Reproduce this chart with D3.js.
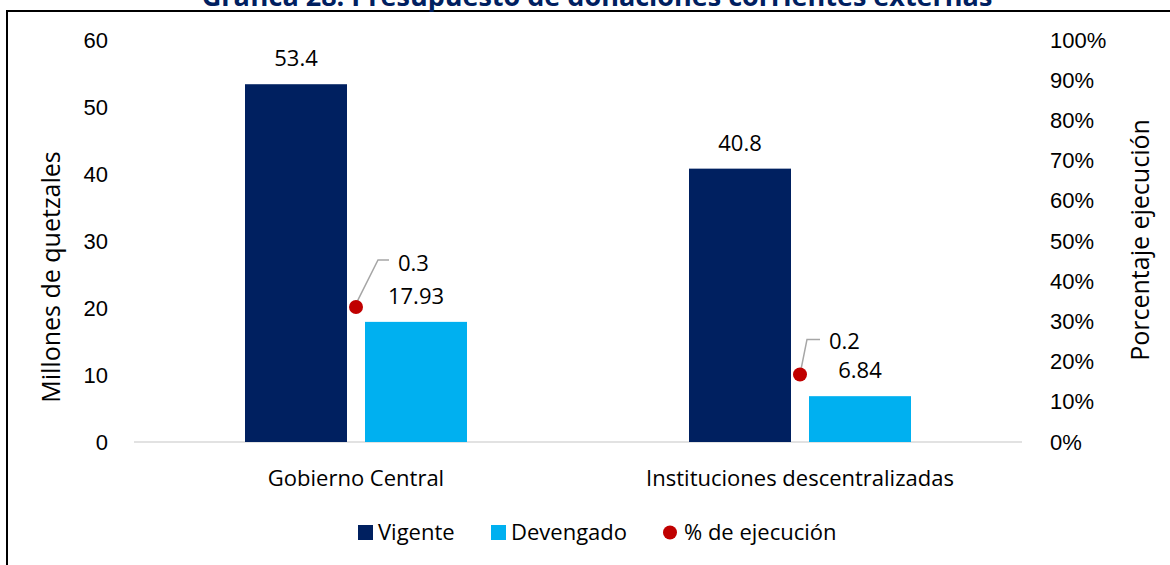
<!DOCTYPE html>
<html><head><meta charset="utf-8">
<script src="https://cdn.jsdelivr.net/npm/d3@7"></script>
<style>
html,body{margin:0;padding:0;background:#fff;}
svg{display:block;font-family:"Open Sans","Noto Sans",sans-serif;}
</style></head>
<body>
<svg id="c" width="1170" height="565"></svg>
<script>
const categories = ["Gobierno Central", "Instituciones descentralizadas"];
const series = ["Vigente", "Devengado"];
const vigente = [53.4, 40.8];
const devengado = [17.93, 6.84];
const ejecucion = [0.336, 0.168];
const vigenteLabels = ["53.4", "40.8"];
const devengadoLabels = ["17.93", "6.84"];
const ejecucionLabels = ["0.3", "0.2"];
const leftTicks = [0, 10, 20, 30, 40, 50, 60];
const rightTicks = [0, 0.1, 0.2, 0.3, 0.4, 0.5, 0.6, 0.7, 0.8, 0.9, 1];
const title = "Gráfica 28: Presupuesto de donaciones corrientes externas";

const colors = {Vigente: "#002060", Devengado: "#00B0F0", pct: "#C00000"};
const FS = 22;
const svg = d3.select("#c");

// frame
svg.append("path").attr("d", "M7,565 L7,11 L1170,11").attr("fill","none").attr("stroke","#000").attr("stroke-width",2);
svg.append("text").attr("x", 597).attr("y", 6).attr("text-anchor","middle")
  .attr("font-size", 27).attr("font-weight","bold").attr("fill","#002060").text(title);

const L = 134, R = 1022, T = 40, B = 442;
const x = d3.scaleBand().domain(categories).range([L, R]);
const y = d3.scaleLinear().domain([0, 60]).range([B, T]);
const y2 = d3.scaleLinear().domain([0, 1]).range([B, T]);

const rows = categories.map((c, i) => ({c, i, Vigente: vigente[i], Devengado: devengado[i]}));
const labelsBy = {Vigente: vigenteLabels, Devengado: devengadoLabels};

// axes
const ga = svg.append("g").attr("transform", `translate(${L},0)`)
  .call(d3.axisLeft(y).tickValues(leftTicks).tickSize(0).tickPadding(26));
ga.select(".domain").remove();
ga.selectAll("text").attr("font-size", FS).attr("fill","#000").attr("font-family","inherit");

const gr = svg.append("g").attr("transform", `translate(${R},0)`)
  .call(d3.axisRight(y2).tickValues(rightTicks).tickSize(0).tickPadding(28).tickFormat(d3.format(".0%")));
gr.select(".domain").remove();
gr.selectAll("text").attr("font-size", FS).attr("fill","#000").attr("font-family","inherit");

svg.append("line").attr("x1", L).attr("x2", R).attr("y1", B).attr("y2", B)
  .attr("stroke", "#d9d9d9").attr("stroke-width", 1.5);

// x labels
svg.selectAll(".xl").data(categories).join("text")
  .attr("x", d => x(d) + x.bandwidth()/2).attr("y", 486)
  .attr("text-anchor","middle").attr("font-size", FS).attr("fill","#000").text(d => d);

// bars
const groupW = x.bandwidth() * 0.5;
const inner = d3.scaleBand().domain(series).range([-groupW/2, groupW/2]).paddingInner(0.15).paddingOuter(0);
rows.forEach(r => {
  const cx = x(r.c) + x.bandwidth()/2;
  series.forEach(s => {
    svg.append("rect").attr("x", cx + inner(s)).attr("width", inner.bandwidth())
      .attr("y", y(r[s])).attr("height", B - y(r[s])).attr("fill", colors[s]);
    svg.append("text").attr("x", cx + inner(s) + inner.bandwidth()/2).attr("y", y(r[s]) - 18)
      .attr("text-anchor","middle").attr("font-size", FS).attr("fill","#000").text(labelsBy[s][r.i]);
  });
});

// percentage points with leader lines
const ann = [{cx: 22, cy: -47, ex: 33, lx: 42, ly: -36}, {cx: 7, cy: -35, ex: 20, lx: 29, ly: -25}];
rows.forEach(r => {
  const px = x(r.c) + x.bandwidth()/2, py = y2(ejecucion[r.i]);
  const a = ann[r.i];
  svg.append("path").attr("d", `M${px+1},${py-5} L${px+a.cx},${py+a.cy} L${px+a.ex},${py+a.cy}`)
    .attr("fill","none").attr("stroke","#a6a6a6").attr("stroke-width",1.5);
  svg.append("circle").attr("cx", px).attr("cy", py).attr("r", 7).attr("fill", colors.pct);
  svg.append("text").attr("x", px + a.lx).attr("y", py + a.ly).attr("font-size", FS).attr("fill","#000")
    .text(ejecucionLabels[r.i]);
});

// axis titles
svg.append("text").attr("transform", "translate(60,277) rotate(-90)").attr("text-anchor","middle")
  .attr("font-size", 25).attr("fill","#000").text("Millones de quetzales");
svg.append("text").attr("transform", "translate(1149,240) rotate(-90)").attr("text-anchor","middle")
  .attr("font-size", 25).attr("fill","#000").text("Porcentaje ejecución");

// legend
const lg = svg.append("g");
const legendItems = [
  {t: "Vigente", type: "rect", c: colors.Vigente, x: 358},
  {t: "Devengado", type: "rect", c: colors.Devengado, x: 491},
  {t: "% de ejecución", type: "circle", c: colors.pct, x: 663}
];
legendItems.forEach(d => {
  if (d.type === "rect") lg.append("rect").attr("x", d.x).attr("y", 525).attr("width", 15).attr("height", 15).attr("fill", d.c);
  else lg.append("circle").attr("cx", d.x + 7).attr("cy", 532.5).attr("r", 7).attr("fill", d.c);
  lg.append("text").attr("x", d.x + (d.type === "rect" ? 20 : 21)).attr("y", 540).attr("font-size", FS).attr("fill","#000").text(d.t);
});
</script>
</body></html>
